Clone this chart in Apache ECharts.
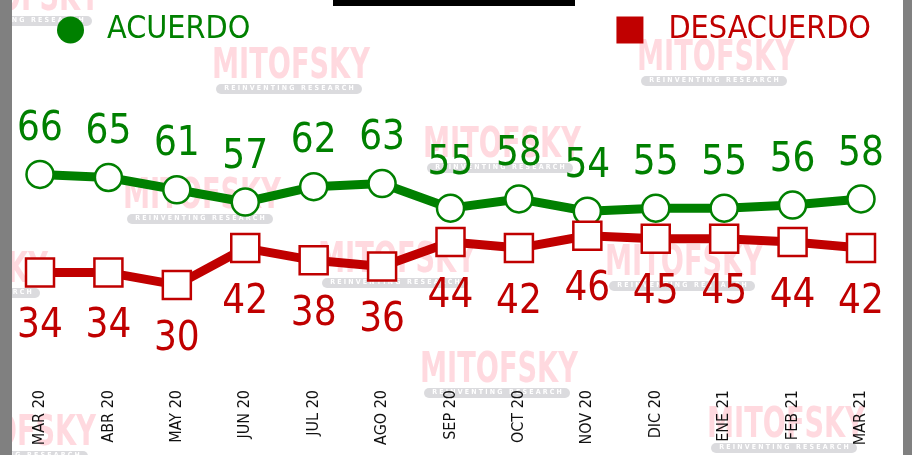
<!DOCTYPE html>
<html>
<head>
<meta charset="utf-8">
<script src="https://cdn.jsdelivr.net/npm/echarts@6/dist/echarts.min.js"></script>
<style>
  html, body { margin: 0; padding: 0; background: #fff; }
  #chart { width: 912px; height: 455px; }
</style>
</head>
<body>
<div id="chart"></div>
<script>
// meses de la encuesta
var months = ['MAR 20', 'ABR 20', 'MAY 20', 'JUN 20', 'JUL 20', 'AGO 20', 'SEP 20',
              'OCT 20', 'NOV 20', 'DIC 20', 'ENE 21', 'FEB 21', 'MAR 21'];
var acuerdo    = [66, 65, 61, 57, 62, 63, 55, 58, 54, 55, 55, 56, 58];
var desacuerdo = [34, 34, 30, 42, 38, 36, 44, 42, 46, 45, 45, 44, 42];

var GREEN = '#008000';
var RED = '#c00000';
var FONT = '"Liberation Sans Narrow", "DejaVu Sans Condensed", sans-serif';

// marcas de agua (decoracion)
var marks = [[-58, -22], [212, 46], [123, 176], [423, 125], [318, 240], [-110, 250],
             [605, 243], [420, 350], [-62, 413], [707, 405], [637, 38]];

function watermark(p) {
  return {
    type: 'group', x: p[0], y: p[1], silent: true, z: -10,
    children: [
      { type: 'text', scaleX: 0.72, style: { text: 'MITOFSKY', x: 0, y: 0, fill: 'rgba(255,170,185,0.45)',
          font: 'bold 42px ' + FONT } },
      { type: 'rect', shape: { x: 4, y: 38, width: 146, height: 10, r: 5 },
        style: { fill: 'rgba(190,190,195,0.55)' } },
      { type: 'text', style: { text: 'R E I N V E N T I N G   R E S E A R C H', x: 77, y: 39,
          align: 'center', fill: '#fff', font: 'bold 7px ' + FONT } }
    ]
  };
}

var graphics = marks.map(watermark);
graphics.push(
  { type: 'rect', shape: { x: 0, y: 0, width: 12, height: 455 }, style: { fill: '#808080' }, z: 10 },
  { type: 'rect', shape: { x: 903, y: 0, width: 9, height: 455 }, style: { fill: '#808080' }, z: 10 },
  { type: 'rect', shape: { x: 333, y: 0, width: 242, height: 6 }, style: { fill: '#000' }, z: 10 }
);

var chart = echarts.init(document.getElementById('chart'));
chart.setOption({
  animation: false,
  backgroundColor: '#fff',
  graphic: graphics,
  legend: [
    { data: [{ name: 'ACUERDO', icon: 'circle', itemStyle: { color: GREEN, borderWidth: 0 } }],
      left: 52, top: 9, itemWidth: 27, itemHeight: 27, selectedMode: false,
      textStyle: { color: GREEN, fontSize: 32, fontFamily: FONT, padding: [0, 0, 0, 18] } },
    { data: [{ name: 'DESACUERDO', icon: 'rect', itemStyle: { color: RED, borderWidth: 0 } }],
      right: 36, top: 9, itemWidth: 27, itemHeight: 27, selectedMode: false,
      textStyle: { color: RED, fontSize: 32, fontFamily: FONT, padding: [0, 0, 0, 20] } }
  ],
  grid: { left: 40, right: 51, top: 70, bottom: 78, outerBoundsMode: 'none' },
  xAxis: {
    type: 'category', data: months, boundaryGap: false,
    axisLine: { show: false }, axisTick: { show: false }, splitLine: { show: false },
    axisLabel: { rotate: 90, margin: 13, color: '#111', fontSize: 16, fontFamily: FONT, interval: 0 }
  },
  yAxis: { type: 'value', min: 0, max: 100, show: false, splitLine: { show: false } },
  series: [
    {
      name: 'ACUERDO', type: 'line', data: acuerdo, color: GREEN,
      symbol: 'circle', symbolSize: 27,
      lineStyle: { width: 9, color: GREEN },
      itemStyle: { color: '#fff', borderColor: GREEN, borderWidth: 2.5 },
      label: { show: true, position: 'top', distance: 10, color: GREEN,
               fontSize: 40, fontFamily: FONT }
    },
    {
      name: 'DESACUERDO', type: 'line', data: desacuerdo, color: RED,
      symbol: 'rect', symbolSize: 28,
      lineStyle: { width: 9, color: RED },
      itemStyle: { color: '#fff', borderColor: RED, borderWidth: 2.5 },
      label: { show: true, position: 'bottom', distance: 19, color: RED,
               fontSize: 40, fontFamily: FONT }
    }
  ]
});
</script>
</body>
</html>
